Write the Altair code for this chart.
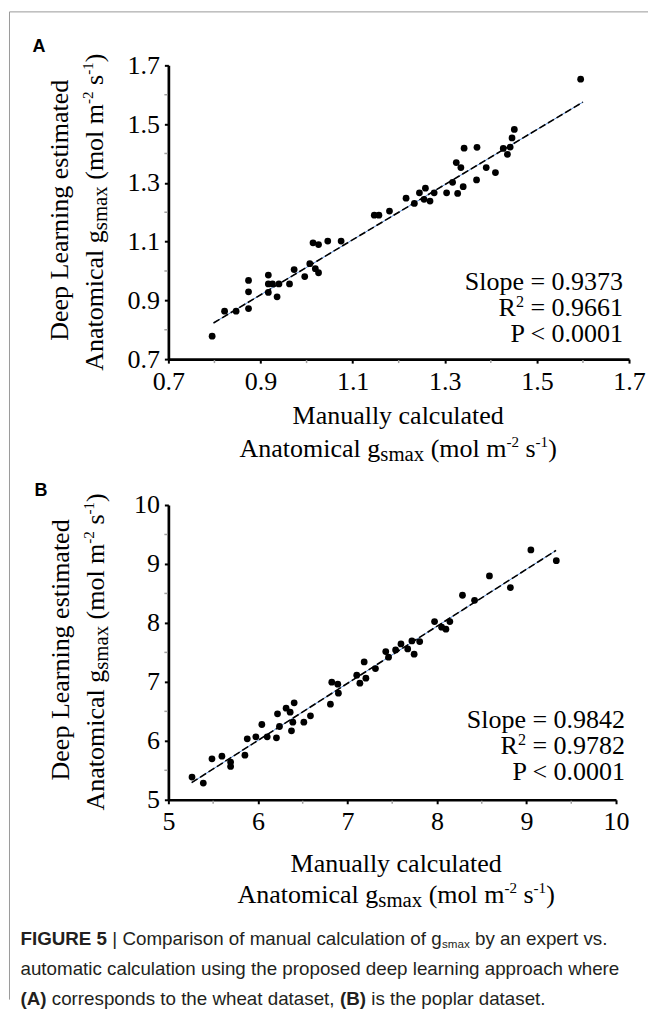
import altair as alt
import pandas as pd

# ---------------- data ----------------
a_x = [0.795, 0.822, 0.847, 0.874, 0.874, 0.874, 0.917, 0.917, 0.917, 0.926,
       0.936, 0.940, 0.963, 0.973, 0.996, 1.007, 1.014, 1.026, 1.019, 1.026,
       1.046, 1.075, 1.147, 1.157, 1.180, 1.216, 1.234, 1.245, 1.258, 1.255,
       1.268, 1.277, 1.304, 1.317, 1.328, 1.340, 1.325, 1.335, 1.342, 1.369,
       1.370, 1.390, 1.410, 1.427, 1.436, 1.442, 1.446, 1.451, 1.595]
a_y = [0.778, 0.863, 0.863, 0.968, 0.929, 0.872, 0.986, 0.956, 0.927, 0.956,
       0.912, 0.956, 0.956, 1.005, 0.981, 1.025, 1.096, 1.090, 1.008, 0.994,
       1.102, 1.102, 1.190, 1.190, 1.204, 1.248, 1.230, 1.266, 1.282, 1.244,
       1.238, 1.266, 1.266, 1.302, 1.264, 1.287, 1.369, 1.352, 1.418, 1.310,
       1.421, 1.352, 1.335, 1.417, 1.397, 1.422, 1.453, 1.482, 1.653]
a_fit_x = [0.798, 1.600]
a_fit_y = [0.823, 1.575]

b_x = [5.264, 5.390, 5.487, 5.598, 5.695, 5.695, 5.855, 5.881, 5.977, 6.044,
       6.104, 6.207, 6.219, 6.241, 6.315, 6.360, 6.405, 6.390, 6.375, 6.513,
       6.587, 6.810, 6.825, 6.892, 6.899, 7.104, 7.139, 7.187, 7.206, 7.313,
       7.428, 7.459, 7.538, 7.598, 7.673, 7.720, 7.745, 7.807, 7.973, 8.052,
       8.100, 8.144, 8.285, 8.420, 8.586, 8.820, 9.049, 9.333]
b_y = [5.385, 5.283, 5.695, 5.740, 5.640, 5.565, 5.757, 6.034, 6.068, 6.277,
       6.068, 6.051, 6.458, 6.243, 6.554, 6.486, 6.644, 6.316, 6.169, 6.316,
       6.424, 6.621, 6.994, 6.960, 6.808, 7.113, 6.977, 7.339, 7.062, 7.226,
       7.514, 7.418, 7.542, 7.644, 7.559, 7.695, 7.469, 7.683, 8.022, 7.927,
       7.893, 8.022, 8.469, 8.384, 8.797, 8.599, 9.237, 9.056]
b_fit_x = [5.26, 9.33]
b_fit_y = [5.29, 9.23]

a_ticks = [0.7, 0.9, 1.1, 1.3, 1.5, 1.7]
a_minor = [0.8, 1.0, 1.2, 1.4, 1.6]
b_ticks = [5, 6, 7, 8, 9, 10]
b_minor = [5.5, 6.5, 7.5, 8.5, 9.5]

a_stats = ["Slope = 0.9373", " = 0.9661", "P < 0.0001"]
b_stats = ["Slope = 0.9842", " = 0.9782", "P < 0.0001"]

y_title_1 = "Deep Learning estimated"
x_title_1 = "Manually calculated"
unit_pieces = [("Anatomical g", 1.0, 0), ("smax", 0.8, 4), (" (mol m", 1.0, 0),
               ("-2", 0.58, -10), (" s", 1.0, 0), ("-1", 0.58, -10), (")", 1.0, 0)]

cap1 = [("FIGURE 5", "bold", 1.0, 0), (" | Comparison of manual calculation of g", "normal", 1.0, 0),
        ("smax", "normal", 0.62, 3), (" by an expert vs.", "normal", 1.0, 0)]
cap2 = [("automatic calculation using the proposed deep learning approach where", "normal", 1.0, 0)]
cap3 = [("(A)", "bold", 1.0, 0), (" corresponds to the wheat dataset, ", "normal", 1.0, 0),
        ("(B)", "bold", 1.0, 0), (" is the poplar dataset.", "normal", 1.0, 0)]

# ---------------- metrics helpers ----------------
TIMES = {' ': .25, '(': .333, ')': .333, '-': .333, '.': .25, '=': .564, '<': .564,
         'A': .722, 'D': .722, 'L': .611, 'M': .889, 'P': .556, 'R': .667, 'S': .556,
         'a': .444, 'c': .444, 'd': .5, 'e': .444, 'g': .5, 'i': .278, 'l': .278,
         'm': .778, 'n': .5, 'o': .5, 'p': .5, 'r': .333, 's': .389, 't': .278,
         'u': .5, 'x': .5, 'y': .5}
ARIAL = {' ': .278, '|': .26, 'C': .722, 'A': .667, '(': .333, ')': .333, ',': .278, '.': .278,
         'a': .556, 'b': .556, 'c': .5, 'd': .556, 'e': .556, 'f': .278, 'g': .556, 'h': .556,
         'i': .222, 'l': .222, 'm': .833, 'n': .556, 'o': .556, 'p': .556, 'r': .333,
         's': .5, 't': .278, 'u': .556, 'v': .5, 'w': .722, 'x': .5, 'y': .5}
ARIAL_B = {' ': .278, 'F': .611, 'I': .278, 'G': .778, 'U': .722, 'R': .722, 'E': .667,
           '5': .556, '(': .333, ')': .333, 'A': .722, 'B': .722}


def tw(s, size):
    return sum(TIMES.get(c, 0.5) for c in s) * size


def aw(s, size, weight):
    tab = ARIAL_B if weight == "bold" else ARIAL
    return sum(tab.get(c, 0.556) for c in s) * size


def lead(s):
    return s[: len(s) - len(s.lstrip(" "))]


SERIF = "Liberation Serif"
SANS = "Liberation Sans"
one = pd.DataFrame({"k": [0]})


def txt(text, x, y, size, font=SERIF, weight="normal", angle=0, align="left", color="black"):
    return alt.Chart(one).mark_text(
        text=text, font=font, fontSize=size, fontWeight=weight, angle=angle,
        align=align, baseline="alphabetic", color=color
    ).encode(x=alt.value(x), y=alt.value(y))


def hrow(pieces, cx, by, fs):
    total = sum(tw(t, fs * k) for t, k, _ in pieces)
    x = cx - total / 2
    out = []
    for t, k, sh in pieces:
        off = tw(lead(t), fs * k)
        out.append(txt(t.strip(" "), x + off, by + sh, fs * k))
        x += tw(t, fs * k)
    return out


def vrow(pieces, bx, cy, fs):
    total = sum(tw(t, fs * k) for t, k, _ in pieces)
    y = cy + total / 2
    out = []
    for t, k, sh in pieces:
        off = tw(lead(t), fs * k)
        out.append(txt(t.strip(" "), bx + sh, y - off, fs * k, angle=270))
        y -= tw(t, fs * k)
    return out


def caprow(pieces, x0, by, fs):
    out = []
    x = x0
    for t, w, k, sh in pieces:
        off = aw(lead(t), fs * k, w)
        out.append(txt(t.strip(" "), x + off, by + sh, fs * k, font=SANS, weight=w, color="#231f20"))
        x += aw(t, fs * k, w)
    return out


def stats(lines, right, by, fs, gap):
    out = [txt(lines[0], right, by, fs, align="right")]
    out.append(txt(lines[1].strip(" "), right, by + gap, fs, align="right"))
    r2 = right - tw(lines[1], fs)
    out.append(txt("2", r2, by + gap - 9, fs * 0.62, align="right"))
    out.append(txt("R", r2 - tw("2", fs * 0.62), by + gap, fs, align="right"))
    out.append(txt(lines[2], right, by + 2 * gap, fs, align="right"))
    return out


FS = 26


def axis(values, fmt):
    return alt.Axis(values=values, format=fmt, title=None, grid=False,
                    domainColor="black", domainWidth=2.7, tickColor="black",
                    tickWidth=2, tickSize=4, labelFont=SERIF, labelFontSize=FS,
                    labelColor="black", labelPadding=5, labelFlush=False,
                    labelOverlap=False)


def panel(xs, ys, fx, fy, dom, ticks, minor, fmt, w, h):
    sx = alt.Scale(domain=dom, nice=False, zero=False)
    df = pd.DataFrame({"x": xs, "y": ys})
    fit = pd.DataFrame({"x": fx, "y": fy})
    mdf = pd.DataFrame({"m": minor})
    pts = alt.Chart(df).mark_circle(size=46, color="black", opacity=1).encode(
        x=alt.X("x:Q", scale=sx, axis=axis(ticks, fmt)),
        y=alt.Y("y:Q", scale=sx, axis=axis(ticks, fmt)))
    blue = alt.Chart(fit).mark_line(color="#5b8fd8", strokeWidth=1).encode(x="x:Q", y="y:Q")
    dash = alt.Chart(fit).mark_line(color="black", strokeWidth=1.6, strokeDash=[7, 3]).encode(x="x:Q", y="y:Q")
    mx = alt.Chart(mdf).mark_rule(color="#a0a0a0", strokeWidth=1.5).encode(
        x="m:Q", y=alt.value(h + 1), y2=alt.value(h + 4))
    my = alt.Chart(mdf).mark_rule(color="#a0a0a0", strokeWidth=1.5).encode(
        y="m:Q", x=alt.value(-4), x2=alt.value(-1))
    return [mx, my, blue, dash, pts]


WA, HA = 461, 294
WB, HB = 448, 295

layersA = panel(a_x, a_y, a_fit_x, a_fit_y, [0.7, 1.7], a_ticks, a_minor, ".1f", WA, HA)
layersA += [
    alt.Chart(one).mark_rule(color="#9a9a9a", strokeWidth=1).encode(
        x=alt.value(-159), x2=alt.value(480), y=alt.value(-53.5)),
    alt.Chart(one).mark_rule(color="#9a9a9a", strokeWidth=1).encode(
        x=alt.value(-159), y=alt.value(-53.5), y2=alt.value(935)),
    txt("A", -136, -13, 18, font=SANS, weight="bold"),
]
layersA += [txt(y_title_1, -100.5, 145, FS, angle=270, align="center")]
layersA += vrow(unit_pieces, -65.5, 147, FS)
layersA += [txt(x_title_1, 230, 359, FS, align="center")]
layersA += hrow(unit_pieces, 230, 392, FS)
layersA += stats(a_stats, 455, 225, FS, 26)

layersB = panel(b_x, b_y, b_fit_x, b_fit_y, [5, 10], b_ticks, b_minor, "d", WB, HB)
layersB += [txt("B", -134, -9, 18, font=SANS, weight="bold")]
layersB += [txt(y_title_1, -99.5, 145, FS, angle=270, align="center")]
layersB += vrow(unit_pieces, -64.5, 147, FS)
layersB += [txt(x_title_1, 228, 367, FS, align="center")]
layersB += hrow(unit_pieces, 228, 398, FS)
layersB += stats(b_stats, 457, 223, FS, 26)
CAP_FS = 18.8
layersB += caprow(cap1, -148, 440, CAP_FS)
layersB += caprow(cap2, -148, 470, CAP_FS)
layersB += caprow(cap3, -148, 500, CAP_FS)

chartA = alt.layer(*layersA).properties(width=WA, height=HA)
chartB = alt.layer(*layersB).properties(width=WB, height=HB)

chart = alt.vconcat(chartA, chartB, spacing=146, bounds="flush").properties(
    padding={"left": 0.5, "top": 3, "right": 0, "bottom": 0}
).configure_view(stroke=None)

chart.save("out.html", embed_options={"renderer": "svg", "actions": False})
